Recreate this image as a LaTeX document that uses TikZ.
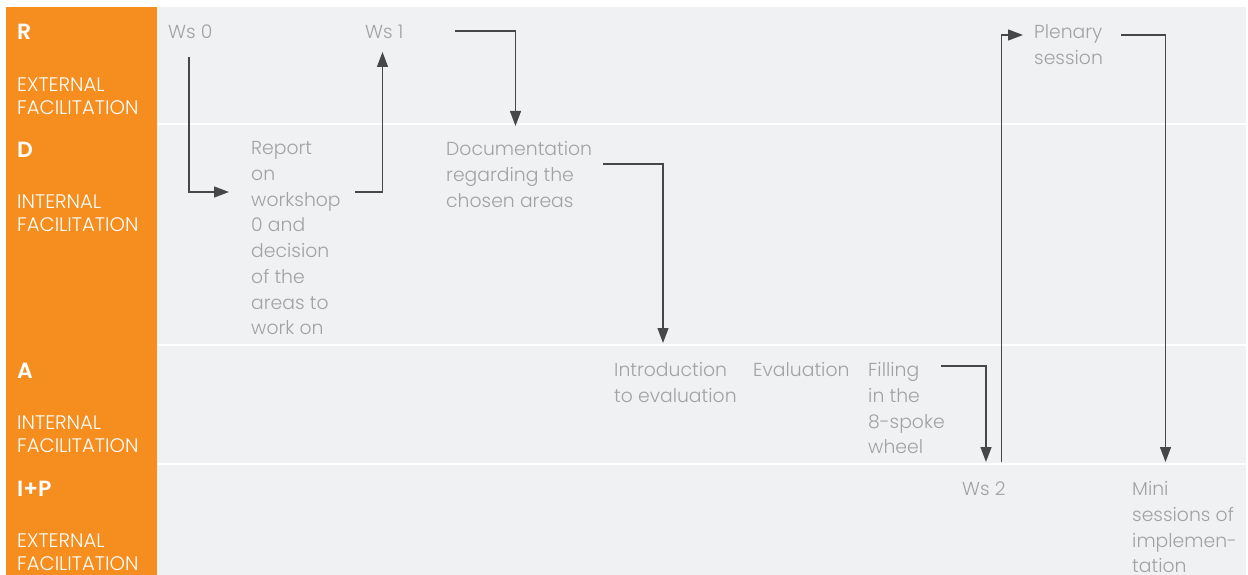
\documentclass[tikz,border=0pt]{standalone}
\usepackage{fontspec}
\setmainfont{Poppins}[UprightFont={* Light}, BoldFont={* SemiBold}]
\usetikzlibrary{arrows.meta}

\definecolor{laneorange}{HTML}{F58D1F}
\definecolor{panelgrey}{HTML}{F0F1F3}
\definecolor{textgrey}{HTML}{A2A2A2}
\definecolor{linegrey}{HTML}{474747}

\tikzset{
  task/.style={anchor=north west, inner sep=0pt, align=left, text=textgrey,
    font=\fontsize{18.8}{25.7}\selectfont},
  lanekey/.style={anchor=west, inner sep=0pt, text=white,
    font=\fontsize{22}{24}\selectfont\bfseries},
  lanesub/.style={anchor=north west, inner sep=0pt, align=left, text=white,
    font=\fontsize{19.6}{22.5}\selectfont},
  flow/.style={draw=linegrey, line width=1.3pt,
    -{Triangle[length=15pt,width=11pt]}},
  divider/.style={draw=white, line width=2.2pt}
}

\begin{document}
\begin{tikzpicture}[x=1pt,y=-1pt]
\useasboundingbox (0,0) rectangle (1248,575);
\fill[white] (0,0) rectangle (1248,575);

% panels
\fill[panelgrey] (157,7) rectangle (1246,575);
\fill[laneorange] (6,7) rectangle (157,575);
\foreach \yy in {124,345,464} \draw[divider] (157,\yy) -- (1246,\yy);

% lane headers
\node[lanekey] (keyR) at (17,32) {R};
\node[lanesub] (subR) at (17,78) {EXTERNAL\\FACILITATION};
\node[lanekey] (keyD) at (17,150) {D};
\node[lanesub] (subD) at (17,195) {INTERNAL\\FACILITATION};
\node[lanekey] (keyA) at (17,371) {A};
\node[lanesub] (subA) at (17,416) {INTERNAL\\FACILITATION};
\node[lanekey] (keyIP) at (17,489) {I+P};
\node[lanesub] (subIP) at (17,534) {EXTERNAL\\FACILITATION};

% tasks
\node[task] (ws0) at (168,24.5) {Ws 0};
\node[task] (ws1) at (365,24.5) {Ws 1};
\node[task] (report) at (251,141.5) {Report\\on\\workshop\\0 and\\decision\\of the\\areas to\\work on};
\node[task] (docu) at (446,141.5) {Documentation\\regarding the\\chosen areas};
\node[task] (intro) at (614,362.5) {Introduction\\to evaluation};
\node[task] (eval) at (753,362.5) {Evaluation};
\node[task] (filling) at (868,362.5) {Filling\\in the\\8-spoke\\wheel};
\node[task] (ws2) at (962,481.5) {Ws 2};
\node[task] (plenary) at (1034,24.5) {Plenary\\session};
\node[task] (mini) at (1132,481.5) {Mini\\sessions of\\implemen-\\tation};

% flow
\draw[flow] ([xshift=21pt,yshift=-32.5pt]ws0.north west) |- ([xshift=-22pt,yshift=-50.5pt]report.north west);
\draw[flow] ([xshift=104pt,yshift=-50.5pt]report.north west) -| ([xshift=17.5pt,yshift=-27.5pt]ws1.north west);
\draw[flow] ([xshift=90pt,yshift=-6.5pt]ws1.north west) -| ([xshift=69.5pt,yshift=15.5pt]docu.north west);
\draw[flow] ([xshift=157pt,yshift=-22.5pt]docu.north west) -| ([xshift=49pt,yshift=19.5pt]intro.north west);
\draw[flow] ([xshift=73pt,yshift=-3.5pt]filling.north west) -| ([xshift=24pt,yshift=19.5pt]ws2.north west);
\draw[flow] ([xshift=39.5pt,yshift=19.5pt]ws2.north west) |- ([xshift=-11pt,yshift=-10.5pt]plenary.north west);
\draw[flow] ([xshift=87pt,yshift=-10.5pt]plenary.north west) -| ([xshift=33.5pt,yshift=19.5pt]mini.north west);
\end{tikzpicture}
\end{document}
